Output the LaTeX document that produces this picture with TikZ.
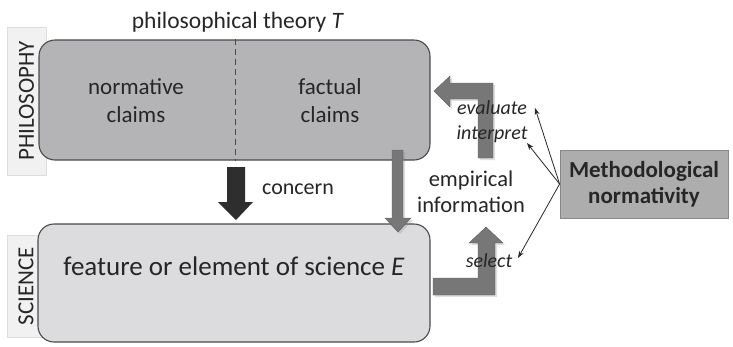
\documentclass[tikz,border=0pt]{standalone}
\usepackage{fontspec}
\setmainfont{Carlito}
\usetikzlibrary{shadows,arrows.meta}
\definecolor{topfill}{HTML}{B4B4B6}
\definecolor{botfill}{HTML}{DCDCDE}
\definecolor{edge}{HTML}{4A4A4A}
\definecolor{lblfill}{HTML}{F1F1F1}
\definecolor{lbledge}{HTML}{DDDDDD}
\definecolor{garrow}{HTML}{777777}
\definecolor{darrow}{HTML}{2E2E2E}
\definecolor{mfill}{HTML}{ADADAD}
\definecolor{medge}{HTML}{888888}
\definecolor{txt}{HTML}{262626}
\newcommand{\fsz}[1]{\fontsize{#1}{#1}\selectfont}
\tikzset{
  lbl/.style={draw=lbledge, fill=lblfill, rotate=90, inner sep=0pt, text=txt, font=\fsz{23}},
  mainbox/.style={draw=edge, line width=1.1pt, rounded corners=16pt, inner sep=0pt},
  txtnode/.style={text=txt, inner sep=0pt, align=center},
  garr/.style={fill=garrow, draw=garrow!80!black, line width=0.4pt, drop shadow={opacity=0.25, shadow xshift=2pt, shadow yshift=-2pt}},
  thinarr/.style={-{Stealth[length=7pt,width=5pt]}, line width=0.8pt, draw=txt},
}
\begin{document}
\begin{tikzpicture}[x=1pt,y=-1pt]
\useasboundingbox (0,0) rectangle (733,346);
% side labels
\node[lbl, minimum width=148, minimum height=39] (philo) at (26.5,101) {PHILOSOPHY};
\node[lbl, minimum width=102, minimum height=38] (sci) at (26,286) {SCIENCE};
% main boxes
\node[mainbox, fill=topfill, minimum width=391, minimum height=120] (T) at (234.5,100) {};
\node[mainbox, fill=botfill, minimum width=392, minimum height=118] (E) at (234,283) {};
\draw[edge, dash pattern=on 6pt off 4pt, line width=1.1pt] (T.north) ++(1,0) coordinate (dtop) -- (dtop |- T.south);
\node[txtnode, font=\fsz{23.5}] (title) at (238,22) {philosophical theory \textit{T}};
\node[txtnode, font=\fsz{23}] (norm) at (136,101) {normative\\[5pt]claims};
\node[txtnode, font=\fsz{23}] (fact) at (330,101) {factual\\[5pt]claims};
\node[txtnode, font=\fsz{27}] (feat) at (234,266) {feature or element of science \textit{E}};
% concern arrow
\fill[darrow] (227,167) -- (245,167) -- (245,202) -- (253,202) -- (236,220) -- (218,202) -- (227,202) -- cycle;
\node[txtnode, font=\fsz{22}] (concern) at (298,189) {concern};
% empirical arrow
\path[garr] (392,150) -- (403,150) -- (403,218) -- (411,218) -- (398,232) -- (385,218) -- (392,218) -- cycle;
\node[txtnode, font=\fsz{22.5}] (emp) at (471,192) {empirical\\[4pt]information};
% upper L arrow
\path[garr] (478,158) -- (478,99) -- (450,99) -- (450,107) -- (434,91) -- (450,76) -- (450,83) -- (493,83) -- (493,158) -- cycle;
% lower L arrow
\path[garr] (433,278) -- (478,278) -- (478,243) -- (469,243) -- (486,227) -- (503,243) -- (495,243) -- (495,295) -- (433,295) -- cycle;
% labels
\node[txtnode, font=\fsz{20}\itshape] (eval) at (492,108) {evaluate};
\node[txtnode, font=\fsz{20}\itshape] (interp) at (492,134) {interpret};
\node[txtnode, font=\fsz{20}\itshape] (sel) at (489,261) {select};
% methodological box
\node[draw=medge, fill=mfill, line width=0.8pt, minimum width=168, minimum height=68, inner sep=0pt, text=txt, align=center, font=\fsz{23}\bfseries] (M) at (644,184) {Methodological\\[3pt]normativity};
\coordinate (tEval) at (535,108);
\coordinate (tInt) at (527,143);
\coordinate (tSel) at (518,258);
\draw[thinarr] (M.west) -- (tEval);
\draw[thinarr] (M.west) -- (tInt);
\draw[thinarr] (M.west) -- (tSel);
\end{tikzpicture}
\end{document}
